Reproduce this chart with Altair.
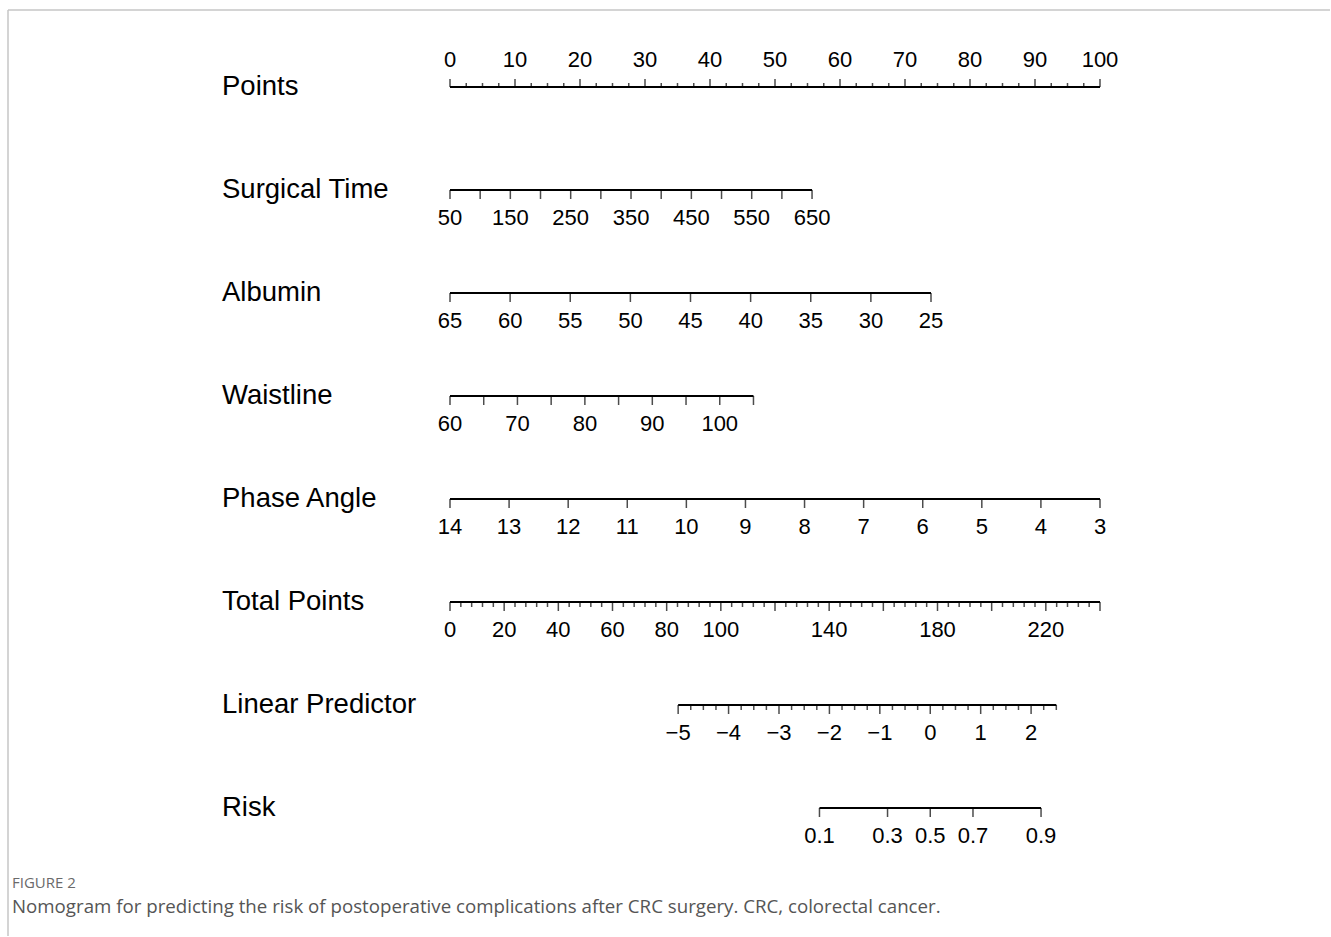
import math

import altair as alt
import pandas as pd

# ---------------------------------------------------------------------------
# Nomogram rows (top to bottom)
# ---------------------------------------------------------------------------
row_names = ["Points", "Surgical Time", "Albumin", "Waistline", "Phase Angle",
             "Total Points", "Linear Predictor", "Risk"]

# Each axis maps its own values onto the 0-100 "Points" scale.
# Two (value, points) anchors per axis define that linear mapping.
points_anchor = [(0, 0.0), (100, 100.0)]
surgical_anchor = [(50, 0.0), (650, 55.7)]
albumin_anchor = [(65, 0.0), (25, 74.0)]
waist_anchor = [(60, 0.0), (100, 41.5)]
phase_anchor = [(14, 0.0), (3, 100.0)]
total_anchor = [(0, 0.0), (240, 100.0)]
lp_anchor = [(-5, 35.1), (2, 89.4)]

# Tick marks and labelled values of every axis
points_ticks = [i * 2.5 for i in range(41)]
points_major = [0, 10, 20, 30, 40, 50, 60, 70, 80, 90, 100]
points_labels = [0, 10, 20, 30, 40, 50, 60, 70, 80, 90, 100]

surgical_ticks = [50, 100, 150, 200, 250, 300, 350, 400, 450, 500, 550, 600, 650]
surgical_labels = [50, 150, 250, 350, 450, 550, 650]

albumin_ticks = [65, 60, 55, 50, 45, 40, 35, 30, 25]
albumin_labels = [65, 60, 55, 50, 45, 40, 35, 30, 25]

waist_ticks = [60, 65, 70, 75, 80, 85, 90, 95, 100, 105]
waist_labels = [60, 70, 80, 90, 100]

phase_ticks = [14, 13, 12, 11, 10, 9, 8, 7, 6, 5, 4, 3]
phase_labels = [14, 13, 12, 11, 10, 9, 8, 7, 6, 5, 4, 3]

total_ticks = [i * 4 for i in range(61)]
total_major = [0, 20, 40, 60, 80, 100, 120, 140, 160, 180, 200, 220, 240]
total_labels = [0, 20, 40, 60, 80, 100, 140, 180, 220]

lp_ticks = [-5 + i * 0.25 for i in range(31)]
lp_major = [-5, -4, -3, -2, -1, 0, 1, 2]
lp_labels = [-5, -4, -3, -2, -1, 0, 1, 2]

risk_ticks = [0.1, 0.3, 0.5, 0.7, 0.9]
risk_labels = [0.1, 0.3, 0.5, 0.7, 0.9]

figure_label = "FIGURE 2"
figure_caption = ("Nomogram for predicting the risk of postoperative complications "
                  "after CRC surgery. CRC, colorectal cancer.")


def to_points(anchor):
    (v0, p0), (v1, p1) = anchor
    return lambda v: p0 + (v - v0) * (p1 - p0) / (v1 - v0)


def fmt(v):
    if float(v).is_integer():
        s = str(int(v))
    else:
        s = f"{v:g}"
    return s.replace("-", "\u2212")


def risk_to_lp(p):
    return math.log(p / (1 - p))


lp_points = to_points(lp_anchor)

axes_spec = [
    # row, ticks, major ticks, labels, value->points, ticks point upward
    (0, points_ticks, points_major, points_labels, to_points(points_anchor), True),
    (1, surgical_ticks, surgical_ticks, surgical_labels, to_points(surgical_anchor), False),
    (2, albumin_ticks, albumin_ticks, albumin_labels, to_points(albumin_anchor), False),
    (3, waist_ticks, waist_ticks, waist_labels, to_points(waist_anchor), False),
    (4, phase_ticks, phase_ticks, phase_labels, to_points(phase_anchor), False),
    (5, total_ticks, total_major, total_labels, to_points(total_anchor), False),
    (6, lp_ticks, lp_major, lp_labels, lp_points, False),
    (7, risk_ticks, risk_ticks, risk_labels, lambda p: lp_points(risk_to_lp(p)), False),
]

tick_rows, label_rows, line_rows = [], [], []
for row, ticks, major, labels, mapper, up in axes_spec:
    pts = [mapper(v) for v in ticks]
    line_rows.append({"row": row, "lo": min(pts), "hi": max(pts)})
    for v, p in zip(ticks, pts):
        is_major = any(abs(v - m) < 1e-9 for m in major)
        tick_rows.append({"row": row, "pts": p,
                          "kind": ("up_" if up else "down_") + ("major" if is_major else "minor")})
    for v in labels:
        label_rows.append({"row": row, "pts": mapper(v), "label": fmt(v), "up": up})

ticks_df = pd.DataFrame(tick_rows)
labels_df = pd.DataFrame(label_rows)
lines_df = pd.DataFrame(line_rows)
names_df = pd.DataFrame({"row": list(range(len(row_names))), "name": row_names})

# ---------------------------------------------------------------------------
# Scales: x in nomogram points, y in row index
# ---------------------------------------------------------------------------
W, H = 1330, 936
px_per_point = 6.5
x0_px = 450
xs = alt.Scale(domain=[-x0_px / px_per_point, (W - x0_px) / px_per_point], nice=False, zero=False)
row_gap, row0_px = 103.0, 87.0
ys = alt.Scale(domain=[-row0_px / row_gap, (H - row0_px) / row_gap],
               nice=False, zero=False, reverse=True)

X = lambda f: alt.X(f, type="quantitative", scale=xs, axis=None)
Y = lambda f: alt.Y(f, type="quantitative", scale=ys, axis=None)

FONT = "Liberation Sans"

lines = alt.Chart(lines_df).mark_rule(color="black", strokeWidth=2).encode(
    x=X("lo"), x2="hi", y=Y("row"))


def tick_layer(kind, size, offset):
    return (alt.Chart(ticks_df).transform_filter(alt.datum.kind == kind)
            .mark_tick(orient="vertical", size=size, thickness=1.5, color="black", yOffset=offset)
            .encode(x=X("pts"), y=Y("row")))


ticks = (tick_layer("up_major", 8, -4) + tick_layer("up_minor", 4, -2)
         + tick_layer("down_major", 9, 4.5) + tick_layer("down_minor", 5, 2.5))

labels_up = (alt.Chart(labels_df).transform_filter("datum.up")
             .mark_text(font=FONT, fontSize=22, color="black", baseline="middle", dy=-27)
             .encode(x=X("pts"), y=Y("row"), text="label:N"))
labels_down = (alt.Chart(labels_df).transform_filter("!datum.up")
               .mark_text(font=FONT, fontSize=22, color="black", baseline="middle", dy=28)
               .encode(x=X("pts"), y=Y("row"), text="label:N"))

names = (alt.Chart(names_df)
         .mark_text(font=FONT, fontSize=27.5, color="black", align="left", baseline="middle")
         .encode(x=alt.value(222), y=Y("row"), text="name:N"))

# light frame on the top and left edges of the figure panel
one = pd.DataFrame({"figure": [figure_label], "caption": [figure_caption]})
frame_top = alt.Chart(one).mark_rule(color="#c6c6c6", strokeWidth=1.5).encode(
    x=alt.value(8), x2=alt.value(W), y=alt.value(10))
frame_left = alt.Chart(one).mark_rule(color="#c6c6c6", strokeWidth=1.5).encode(
    x=alt.value(8), y=alt.value(10), y2=alt.value(H))

# figure label and caption under the nomogram
fig_label = alt.Chart(one).mark_text(
    font="Open Sans", fontSize=15, color="#6a6a6a", align="left", baseline="middle"
).encode(x=alt.value(12), y=alt.value(883), text="figure:N")
fig_caption = alt.Chart(one).mark_text(
    font="Open Sans", fontSize=18.7, color="#555555", align="left", baseline="middle"
).encode(x=alt.value(12), y=alt.value(907), text="caption:N")

chart = (alt.layer(frame_top, frame_left, lines, ticks, labels_up, labels_down, names,
                   fig_label, fig_caption)
         .properties(
             width=W, height=H,
             autosize=alt.AutoSizeParams(type="none"),
             padding={"left": 0, "top": 0, "right": 0, "bottom": 0})
         .configure_view(stroke=None))

chart.save("out.html", embed_options={"renderer": "svg", "actions": False})
